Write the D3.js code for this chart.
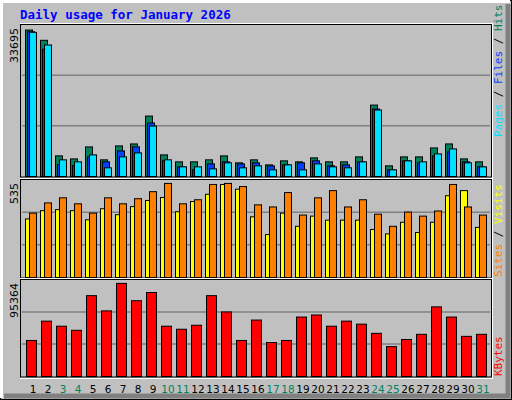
<!DOCTYPE html>
<html><head><meta charset="utf-8">
<script src="https://cdn.jsdelivr.net/npm/d3@7"></script>
<style>body{margin:0;background:#fff}svg{display:block}</style>
</head><body>
<script>
// daily values
const days = d3.range(1, 32)
const weekends = [3, 4, 10, 11, 17, 18, 24, 25, 31]
const hits = [33695,31330,4740,4050,6800,3830,7030,7490,13900,4970,3370,3370,3830,4740,3140,3830,2670,3600,3370,4280,3370,3370,4510,16430,2450,4510,4510,6570,7490,4050,3370]
const files = [33300,29270,2750,2520,4510,3370,5890,6800,12300,3600,2220,1530,2900,3370,2900,3140,2450,2670,3140,3600,2450,2670,3370,15520,1530,3600,3140,4740,5660,3370,2220]
const pages = [33160,30250,3830,3370,4970,1990,4510,5430,11600,3830,2220,2220,1760,3140,1990,2450,1530,2670,1530,2900,2220,1990,3370,15290,1530,3600,3370,5200,6340,3140,2220]
const visits = [333,380,386,380,328,391,357,403,438,455,374,432,473,529,502,345,244,366,291,349,326,326,326,273,248,314,256,314,465,494,285]
const sites = [366,424,453,419,366,453,419,448,488,535,419,442,529,535,517,413,401,483,355,453,494,401,442,360,291,372,349,378,529,401,355]
const kbytes = [36900,56700,51500,47300,82800,67200,95364,77600,86000,51500,48400,52500,82800,66100,36900,57800,34800,36900,60900,63000,51500,56700,53600,44200,30600,37900,43200,71300,60900,41100,43200]
const maxLabels = ["33695", "535", "95364"]

const W = 512, H = 400
const svg = d3.select("body").append("svg").attr("width", W).attr("height", H)

// frame with bevel
svg.append("rect").attr("x", 0.5).attr("y", 0.5).attr("width", W - 1).attr("height", H - 1)
    .attr("fill", "#c0c0c0").attr("stroke", "#000")
svg.append("path").attr("d", `M1.5,${H-2} V1.5 H${W-2}`).attr("stroke", "#fff").attr("stroke-width", 3).attr("fill", "none")
svg.append("path").attr("d", `M${W-4},4 V${H-4} H4`).attr("stroke", "#808080").attr("stroke-width", 5).attr("fill", "none")

svg.append("text").attr("x", 20).attr("y", 19).text("Daily usage for January 2026")
    .attr("font-family", "DejaVu Sans Mono").attr("font-weight", "bold").attr("font-size", 12.5).attr("fill", "#0000ff")

const x = d3.scaleBand().domain(days).range([21, 491]).paddingInner(0)
const left = d => 25 + (d - 1) * 15

const panels = [
    {top: 25, bot: 176, max: 33695, label: 0},
    {top: 180, bot: 277, max: 535, label: 1},
    {top: 280, bot: 376, max: 95364, label: 2}
]
panels.forEach(p => {
    p.y = d3.scaleLinear().domain([0, p.max]).range([p.bot, p.bot - (p.bot - p.top) * 0.97])
    const g = svg.append("g")
    const h = p.bot - p.top
    ;[1, 2].forEach(k => g.append("line").attr("x1", 22).attr("x2", 490)
        .attr("y1", p.bot - h * k / 3).attr("y2", p.bot - h * k / 3).attr("stroke", "#808080").attr("stroke-width", 1.5))
    svg.append("text").attr("transform", `translate(18,${p.top + 3}) rotate(-90)`)
        .attr("text-anchor", "end").attr("font-family", "DejaVu Sans").attr("font-size", 11).text(maxLabels[p.label])
})

function bars(panel, vals, off, w, color) {
    svg.append("g").selectAll("rect").data(vals).join("rect")
        .attr("x", (v, i) => left(days[i]) + off + 0.5)
        .attr("y", v => panel.y(v) + 0.5)
        .attr("width", w).attr("height", v => panel.bot - panel.y(v))
        .attr("fill", color).attr("stroke", "#000")
}
bars(panels[0], hits, 0, 7, "#00805c")
bars(panels[0], files, 2, 7, "#0040ff")
bars(panels[0], pages, 4, 7, "#00e0ff")
bars(panels[1], visits, 0, 7, "#ffff00")
bars(panels[1], sites, 4, 7, "#ff8000")
bars(panels[2], kbytes, 1, 10, "#ff0000")

// plot borders
panels.forEach(p => {
    svg.append("rect").attr("x", 20.5).attr("y", p.top - 0.5).attr("width", 471).attr("height", p.bot - p.top + 1.5)
        .attr("fill", "none").attr("stroke", "#000")
    svg.append("line").attr("x1", 20).attr("x2", 492).attr("y1", p.top - 1.5).attr("y2", p.top - 1.5).attr("stroke", "#fff")
})
svg.append("line").attr("x1", 20).attr("x2", 493).attr("y1", 378.5).attr("y2", 378.5).attr("stroke", "#fff")
svg.append("line").attr("x1", 492.5).attr("x2", 492.5).attr("y1", 23).attr("y2", 379).attr("stroke", "#fff")

svg.append("g").selectAll("text").data(days).join("text")
    .attr("x", d => left(d) + 8).attr("y", 393).attr("text-anchor", "middle")
    .attr("font-family", "DejaVu Sans").attr("font-size", 10.5)
    .attr("fill", d => weekends.includes(d) ? "#00805c" : "#000").text(d => d)

function sideLabel(yBase, parts) {
    const t = svg.append("text").attr("transform", `translate(502,${yBase}) rotate(-90)`)
        .attr("font-family", "DejaVu Sans Mono").attr("font-size", 11)
    parts.forEach(([s, c]) => t.append("tspan").attr("fill", c).text(s))
}
sideLabel(137, [["Pages", "#00e0ff"], [" / ", "#000"], ["Files", "#0040ff"], [" / ", "#000"], ["Hits", "#00805c"]])
sideLabel(277, [["Sites", "#ff8000"], [" / ", "#000"], ["Visits", "#ffff00"]])
sideLabel(376, [["KBytes", "#ff0000"]])
</script>
</body></html>
